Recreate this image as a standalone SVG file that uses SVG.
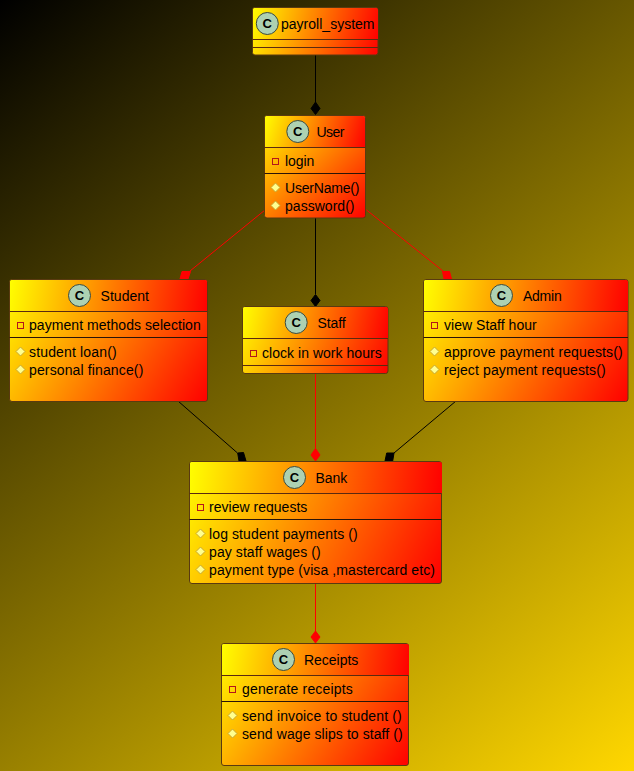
<svg xmlns="http://www.w3.org/2000/svg" width="634" height="771" viewBox="0 0 634 771">
<defs>
<linearGradient id="bg" gradientUnits="userSpaceOnUse" x1="0" y1="0" x2="634" y2="771"><stop offset="0" stop-color="#000000"/><stop offset="1" stop-color="#FFD700"/></linearGradient>
<linearGradient id="box"><stop offset="0" stop-color="#FFFF00"/><stop offset="1" stop-color="#FF0000"/></linearGradient>
<linearGradient id="g1" href="#box" gradientUnits="userSpaceOnUse" x1="252.500" y1="7.500" x2="378" y2="55"/>
<linearGradient id="h1" href="#box" gradientUnits="userSpaceOnUse" x1="252.500" y1="7.500" x2="378" y2="39.500"/>
<linearGradient id="g2" href="#box" gradientUnits="userSpaceOnUse" x1="264.500" y1="115.500" x2="365.500" y2="218"/>
<linearGradient id="h2" href="#box" gradientUnits="userSpaceOnUse" x1="264.500" y1="115.500" x2="365.500" y2="147.500"/>
<linearGradient id="g3" href="#box" gradientUnits="userSpaceOnUse" x1="9.500" y1="279.500" x2="207.500" y2="401.500"/>
<linearGradient id="h3" href="#box" gradientUnits="userSpaceOnUse" x1="9.500" y1="279.500" x2="207.500" y2="311.500"/>
<linearGradient id="g4" href="#box" gradientUnits="userSpaceOnUse" x1="242.500" y1="306.500" x2="388" y2="373.500"/>
<linearGradient id="h4" href="#box" gradientUnits="userSpaceOnUse" x1="242.500" y1="306.500" x2="388" y2="338.500"/>
<linearGradient id="g5" href="#box" gradientUnits="userSpaceOnUse" x1="423.500" y1="279.500" x2="628" y2="401.500"/>
<linearGradient id="h5" href="#box" gradientUnits="userSpaceOnUse" x1="423.500" y1="279.500" x2="628" y2="311.500"/>
<linearGradient id="g6" href="#box" gradientUnits="userSpaceOnUse" x1="189.500" y1="461.500" x2="441.500" y2="583.500"/>
<linearGradient id="h6" href="#box" gradientUnits="userSpaceOnUse" x1="189.500" y1="461.500" x2="441.500" y2="493.500"/>
<linearGradient id="g7" href="#box" gradientUnits="userSpaceOnUse" x1="221.500" y1="643.500" x2="408.500" y2="765.500"/>
<linearGradient id="h7" href="#box" gradientUnits="userSpaceOnUse" x1="221.500" y1="643.500" x2="408.500" y2="675.500"/>
</defs>
<style>
text{font-family:"Liberation Sans",Arial,sans-serif;font-size:14px;fill:#000}
.b{stroke:#5a3a10;stroke-width:1}
.s{stroke:#5a2a10;stroke-width:1;fill:none}
.d{stroke:#2a1408;stroke-width:1;fill:none}
.c{fill:#ADD1B2;stroke:#3c4a3c;stroke-width:1}
text.g{font-size:13px;font-weight:bold;text-anchor:middle}
.p{fill:none;stroke:#B4161A;stroke-width:1}
.m{fill:#FFFF90;stroke:#C8A830;stroke-width:1}
.k{stroke:#000;stroke-width:1;fill:none}
.r{stroke:#FF0000;stroke-width:1;fill:none}
.kd{fill:#000;stroke:#000;stroke-width:1}
.rd{fill:#FF0000;stroke:#FF0000;stroke-width:1}
</style>
<rect width="634" height="771" fill="url(#bg)"/>
<g id="connectors">
<path class="k" d="M315.500 55V102"/><polygon class="kd" points="315.500,102 320,108.500 315.500,114.500 311,108.500"/>
<path class="r" d="M265 210L190 271"/><polygon class="rd" points="182,271.500 190.500,271.500 188,279 180,279"/>
<path class="k" d="M315.500 218V294"/><polygon class="kd" points="315.500,294.500 320,300.500 315.500,306.500 311,300.500"/>
<path class="r" d="M366.500 210L443 271"/><polygon class="rd" points="442.500,271.500 449.500,271.500 451.500,279 444,279"/>
<path class="k" d="M178 401L237.500 453"/><polygon class="kd" points="237.700,453 243.500,452.500 246,461 239,461"/>
<path class="r" d="M315.500 374V449"/><polygon class="rd" points="315.500,448.500 320,455 315.500,461 311,455"/>
<path class="k" d="M456 401L394 453"/><polygon class="kd" points="386.700,453 394,453 392.700,461 385,461"/>
<path class="r" d="M315.500 584V631"/><polygon class="rd" points="315.500,631 320,637 315.500,643 311,637"/>
</g>
<g id="payroll_system">
<rect class="b" fill="url(#g1)" x="252.500" y="7.500" width="125.500" height="47.500" rx="2.500"/>
<path fill="url(#h1)" d="M253 39.500V10q0-2 2-2h121q2 0 2 2V39.500z"/>
<path class="s" d="M252.500 39.500H378M252.500 47.500H378"/>
<circle class="c" cx="267.300" cy="23.500" r="11"/><text class="g" x="267.300" y="28.200">C</text>
<text x="281" y="29" textLength="93.500">payroll_system</text>
</g>
<g id="User">
<rect class="b" fill="url(#g2)" x="264.500" y="115.500" width="101" height="102.500" rx="2.500"/>
<path fill="url(#h2)" d="M265 147.500V118q0-2 2-2h96q2 0 2 2V147.500z"/>
<path class="s" d="M264.500 147.500H365.500"/><path class="d" d="M264.500 173.500H365.500"/>
<circle class="c" cx="297.800" cy="131.500" r="11"/><text class="g" x="297.800" y="136.200">C</text>
<text x="316.500" y="137" textLength="28">User</text>
<rect class="p" x="272.500" y="158.500" width="6" height="6"/><text x="285" y="166" textLength="29.300">login</text>
<polygon class="m" points="275.500,183 280,187.500 275.500,192 271,187.500"/><text x="285" y="193" textLength="74.500">UserName()</text>
<polygon class="m" points="275.500,201 280,205.500 275.500,210 271,205.500"/><text x="285" y="211" textLength="69.500">password()</text>
</g>
<g id="Student">
<rect class="b" fill="url(#g3)" x="9.500" y="279.500" width="198" height="122" rx="2.500"/>
<path fill="url(#h3)" d="M10 311.500V282q0-2 2-2h193q2 0 2 2V311.500z"/>
<path class="s" d="M9.500 311.500H207.500"/><path class="d" d="M9.500 337.500H207.500"/>
<circle class="c" cx="79.500" cy="295.500" r="11"/><text class="g" x="79.500" y="300.200">C</text>
<text x="100.500" y="301" textLength="48.500">Student</text>
<rect class="p" x="17.500" y="322.500" width="6" height="6"/><text x="29" y="330" textLength="171.700">payment methods selection</text>
<polygon class="m" points="20.500,347 25,351.500 20.500,356 16,351.500"/><text x="29" y="357" textLength="87.700">student loan()</text>
<polygon class="m" points="20.500,365 25,369.500 20.500,374 16,369.500"/><text x="29" y="375" textLength="114.300">personal finance()</text>
</g>
<g id="Staff">
<rect class="b" fill="url(#g4)" x="242.500" y="306.500" width="145.500" height="67" rx="2.500"/>
<path fill="url(#h4)" d="M243 338.500V309q0-2 2-2h141q2 0 2 2V338.500z"/>
<path class="s" d="M242.500 338.500H388M242.500 365.500H388"/>
<circle class="c" cx="296.200" cy="322.500" r="11"/><text class="g" x="296.200" y="327.200">C</text>
<text x="317.500" y="328" textLength="28.200">Staff</text>
<rect class="p" x="250.500" y="350.500" width="6" height="6"/><text x="262" y="358" textLength="119.700">clock in work hours</text>
</g>
<g id="Admin">
<rect class="b" fill="url(#g5)" x="423.500" y="279.500" width="204.500" height="122" rx="2.500"/>
<path fill="url(#h5)" d="M424 311.500V282q0-2 2-2h200q2 0 2 2V311.500z"/>
<path class="s" d="M423.500 311.500H628"/><path class="d" d="M423.500 337.500H628"/>
<circle class="c" cx="501.500" cy="295.500" r="11"/><text class="g" x="501.500" y="300.200">C</text>
<text x="523" y="301" textLength="38.700">Admin</text>
<rect class="p" x="431.500" y="322.500" width="6" height="6"/><text x="444" y="330" textLength="92.700">view Staff hour</text>
<polygon class="m" points="434.500,347 439,351.500 434.500,356 430,351.500"/><text x="444" y="357" textLength="178.700">approve payment requests()</text>
<polygon class="m" points="434.500,365 439,369.500 434.500,374 430,369.500"/><text x="444" y="375" textLength="161.700">reject payment requests()</text>
</g>
<g id="Bank">
<rect class="b" fill="url(#g6)" x="189.500" y="461.500" width="252" height="122" rx="2.500"/>
<path fill="url(#h6)" d="M190 493.500V464q0-2 2-2h248q2 0 2 2V493.500z"/>
<path class="s" d="M189.500 493.500H441.500"/><path class="d" d="M189.500 519.500H441.500"/>
<circle class="c" cx="294.500" cy="477.500" r="11"/><text class="g" x="294.500" y="482.200">C</text>
<text x="315.500" y="483" textLength="31.800">Bank</text>
<rect class="p" x="197.500" y="504.500" width="6" height="6"/><text x="209" y="512" textLength="98.300">review requests</text>
<polygon class="m" points="200.500,529 205,533.500 200.500,538 196,533.500"/><text x="209" y="539" textLength="148.700">log student payments ()</text>
<polygon class="m" points="200.500,547 205,551.500 200.500,556 196,551.500"/><text x="209" y="557" textLength="111.700">pay staff wages ()</text>
<polygon class="m" points="200.500,565 205,569.500 200.500,574 196,569.500"/><text x="209" y="575" textLength="226">payment type (visa ,mastercard etc)</text>
</g>
<g id="Receipts">
<rect class="b" fill="url(#g7)" x="221.500" y="643.500" width="187" height="122" rx="2.500"/>
<path fill="url(#h7)" d="M222 675.500V646q0-2 2-2h183q2 0 2 2V675.500z"/>
<path class="s" d="M221.500 675.500H408.500"/><path class="d" d="M221.500 701.500H408.500"/>
<circle class="c" cx="283.500" cy="659.500" r="11"/><text class="g" x="283.500" y="664.200">C</text>
<text x="304" y="665" textLength="54.300">Receipts</text>
<rect class="p" x="229.500" y="686.500" width="6" height="6"/><text x="242" y="694" textLength="110.700">generate receipts</text>
<polygon class="m" points="232.500,711 237,715.500 232.500,720 228,715.500"/><text x="242" y="721" textLength="159.700">send invoice to student ()</text>
<polygon class="m" points="232.500,729 237,733.500 232.500,738 228,733.500"/><text x="242" y="739" textLength="160.700">send wage slips to staff ()</text>
</g>
</svg>
